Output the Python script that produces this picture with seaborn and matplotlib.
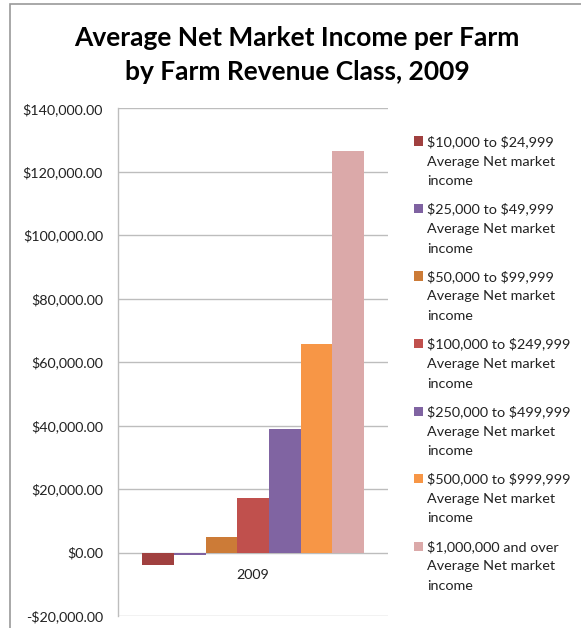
import matplotlib
matplotlib.use("Agg")
import matplotlib.pyplot as plt
import matplotlib.ticker as mticker
from matplotlib.patches import Rectangle
import pandas as pd
import seaborn as sns

# Data
years = ["2009"]
revenue_classes = [
    "$10,000 to $24,999",
    "$25,000 to $49,999",
    "$50,000 to $99,999",
    "$100,000 to $249,999",
    "$250,000 to $499,999",
    "$500,000 to $999,999",
    "$1,000,000 and over",
]
series_suffix = ["Average Net market", "income"]
net_income = [-3900, -650, 5000, 17200, 38800, 65600, 126500]
colors = ["#A0403F", "#7F62A1", "#CC7B37", "#C0504D", "#8064A2", "#F79646", "#DBA9A9"]
yticks = [-20000, 0, 20000, 40000, 60000, 80000, 100000, 120000, 140000]
title = "Average Net Market Income per Farm\nby Farm Revenue Class, 2009"

def esc(s):
    return s.replace("$", r"\$")

df = pd.DataFrame({"year": years * len(revenue_classes),
                   "cls": revenue_classes,
                   "value": net_income})

sns.set_style("white")
plt.rcParams["font.family"] = ["Lato", "DejaVu Sans"]

W, H = 581, 628
fig = plt.figure(figsize=(W / 100, H / 100), dpi=100)
ax = fig.add_axes([118.3 / W, 1 - 616 / H, (388 - 118.3) / W, (616 - 108.3) / H])

sns.barplot(data=df, x="year", y="value", hue="cls", palette=colors,
            width=0.823, saturation=1, linewidth=0, ax=ax, legend=False)

ax.set_xlim(-0.5, 0.5)
ax.set_ylim(yticks[0], yticks[-1])
ax.set_yticks(yticks)
ax.yaxis.set_major_formatter(mticker.FuncFormatter(
    lambda v, p: ("-" if v < 0 else "") + "${:,.2f}".format(abs(v))))
ax.set_xticks([])
ax.set_xlabel("")
ax.set_ylabel("")
ax.tick_params(axis="y", length=0, pad=11, labelsize=10.3, labelcolor="#222222")
ax.grid(axis="y", color="#BDBDBD", linewidth=1)
ax.set_axisbelow(True)
for side in ["top", "right", "bottom"]:
    ax.spines[side].set_visible(False)
ax.spines["left"].set_color("#BDBDBD")
ax.spines["left"].set_linewidth(1)

ax.annotate(years[0], xy=(0, 0), xycoords="data", xytext=(0, -16),
            textcoords="offset points", ha="center", va="center",
            fontsize=10.3, color="#222222")

# Legend: one colour key per revenue class, three text lines per entry
entry_pitch, line_pitch, first_baseline = 67.5, 19.5, 146
for i, (cls, col) in enumerate(zip(revenue_classes, colors)):
    base = first_baseline + i * entry_pitch
    fig.add_artist(Rectangle((414 / W, 1 - (base - 0.5) / H), 9 / W, 9 / H,
                             transform=fig.transFigure, facecolor=col,
                             edgecolor="none"))
    for k, line in enumerate([esc(cls)] + series_suffix):
        fig.text(427 / W, 1 - (base + k * line_pitch) / H, line,
                 ha="left", va="baseline", fontsize=10.4, color="#222222")

fig.text(297 / W, 1 - 55 / H, title, ha="center", va="center",
         fontsize=19, fontweight="bold", linespacing=1.45, color="black")

# outer chart frame
fig.add_artist(Rectangle((10 / W, -0.1), 1.2, 1.1 - 4 / H, transform=fig.transFigure,
                         fill=False, edgecolor="#9A9A9A", linewidth=1.2))

fig.savefig("out.png", dpi=100)
